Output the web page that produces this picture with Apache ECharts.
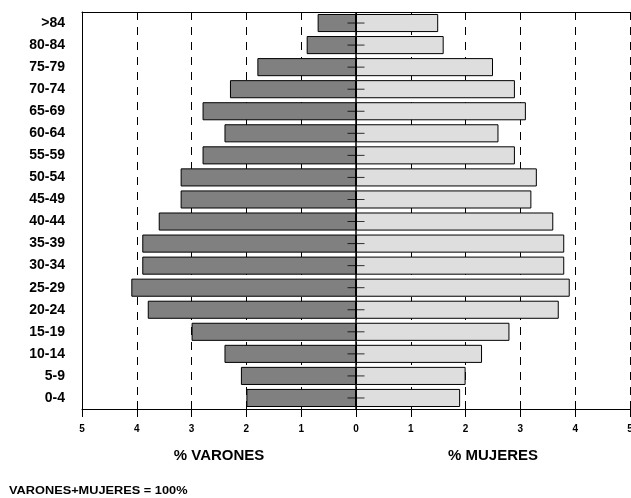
<!DOCTYPE html>
<html>
<head>
<meta charset="utf-8">
<script src="https://cdn.jsdelivr.net/npm/echarts@6/dist/echarts.min.js"></script>
<style>
html,body{margin:0;padding:0;background:#fff;overflow:hidden;width:631px;height:498px;}
#chart{width:631px;height:498px;}
</style>
</head>
<body>
<div id="chart"></div>
<script>
const categories = ['0-4','5-9','10-14','15-19','20-24','25-29','30-34','35-39','40-44','45-49','50-54','55-59','60-64','65-69','70-74','75-79','80-84','>84'];
const varones = [2.0,2.1,2.4,3.0,3.8,4.1,3.9,3.9,3.6,3.2,3.2,2.8,2.4,2.8,2.3,1.8,0.9,0.7];
const mujeres = [1.9,2.0,2.3,2.8,3.7,3.9,3.8,3.8,3.6,3.2,3.3,2.9,2.6,3.1,2.9,2.5,1.6,1.5];
const xTicks = [-5,-4,-3,-2,-1,0,1,2,3,4,5];
const titleLeft = '% VARONES';
const titleRight = '% MUJERES';
const footer = 'VARONES+MUJERES = 100%';

const FONT = '"Liberation Sans", Arial, sans-serif';
const chart = echarts.init(document.getElementById('chart'), null, {renderer:'canvas', width: 631, height: 498});
const gridLeft = 82, gridRight = 1, gridTop = 12, gridBottom = 89;
const W = 631, H = 498;
const plotW = W - gridLeft - gridRight;
const cx = gridLeft + plotW/2;

chart.setOption({
  animation: false,
  backgroundColor: '#fff',
  grid: {left: gridLeft, right: gridRight, top: gridTop, bottom: gridBottom, containLabel: false, outerBoundsMode: 'none'},
  xAxis: [
    {
      type: 'value', position: 'bottom', min: xTicks[0], max: xTicks[xTicks.length-1], interval: 1,
      axisLine: {show: true, onZero: false, lineStyle: {color: '#000', width: 1}},
      axisTick: {show: true, inside: false, length: 8, lineStyle: {color: '#000'}},
      axisLabel: {show: true, margin: 15, fontFamily: FONT, fontWeight: 'bold', fontSize: 10, color: '#000',
        formatter: v => String(Math.abs(v))},
      splitLine: {show: true, lineStyle: {color: '#000', width: 1, type: [8,7]}}
    },
    {
      type: 'value', position: 'bottom', min: xTicks[0], max: xTicks[xTicks.length-1], interval: 1,
      axisLine: {show: false, onZero: false},
      axisTick: {show: true, inside: true, length: 8, lineStyle: {color: '#000'}},
      axisLabel: {show: false},
      splitLine: {show: false}
    },
    {
      type: 'value', position: 'top', min: xTicks[0], max: xTicks[xTicks.length-1], interval: 1,
      axisLine: {show: true, onZero: false, lineStyle: {color: '#000', width: 1}},
      axisTick: {show: false}, axisLabel: {show: false}, splitLine: {show: false}
    }
  ],
  yAxis: [{
    type: 'category', data: categories, position: 'left',
    axisLine: {show: true, onZero: false, lineStyle: {color: '#000', width: 1}},
    axisTick: {show: false},
    axisLabel: {margin: 17, fontFamily: FONT, fontWeight: 'bold', fontSize: 14, color: '#000'},
    splitLine: {show: false}
  }],
  series: [
    {
      name: 'Varones', type: 'bar', stack: 'p', xAxisIndex: 0,
      data: varones.map(v => -v),
      barCategoryGap: '18%',
      itemStyle: {color: '#808080', borderColor: '#000', borderWidth: 1},
      z: 2
    },
    {
      name: 'Mujeres', type: 'bar', stack: 'p', xAxisIndex: 0,
      data: mujeres,
      barCategoryGap: '18%',
      itemStyle: {color: '#dedede', borderColor: '#000', borderWidth: 1},
      z: 2,
      markLine: {
        silent: true, symbol: 'none', label: {show: false},
        lineStyle: {color: '#000', width: 1.5, type: 'solid'},
        data: [{xAxis: 0}]
      }
    },
    {
      type: 'scatter', xAxisIndex: 0,
      data: categories.map((c) => [0, c]),
      symbol: 'rect', symbolSize: [17, 1],
      itemStyle: {color: '#000'},
      z: 5, silent: true
    }
  ],
  graphic: [
    {type: 'text', x: (gridLeft + cx)/2, y: 456, scaleX: 1.07, style: {text: titleLeft, font: 'bold 14px ' + FONT, fill: '#000', textAlign: 'center', textVerticalAlign: 'middle'}},
    {type: 'text', x: (cx + W - gridRight)/2, y: 456, scaleX: 1.07, style: {text: titleRight, font: 'bold 14px ' + FONT, fill: '#000', textAlign: 'center', textVerticalAlign: 'middle'}},
    {type: 'text', x: 9, y: 491, scaleX: 1.16, style: {text: footer, font: 'bold 11px ' + FONT, fill: '#000', textAlign: 'left', textVerticalAlign: 'middle'}}
  ]
});
</script>
</body>
</html>
